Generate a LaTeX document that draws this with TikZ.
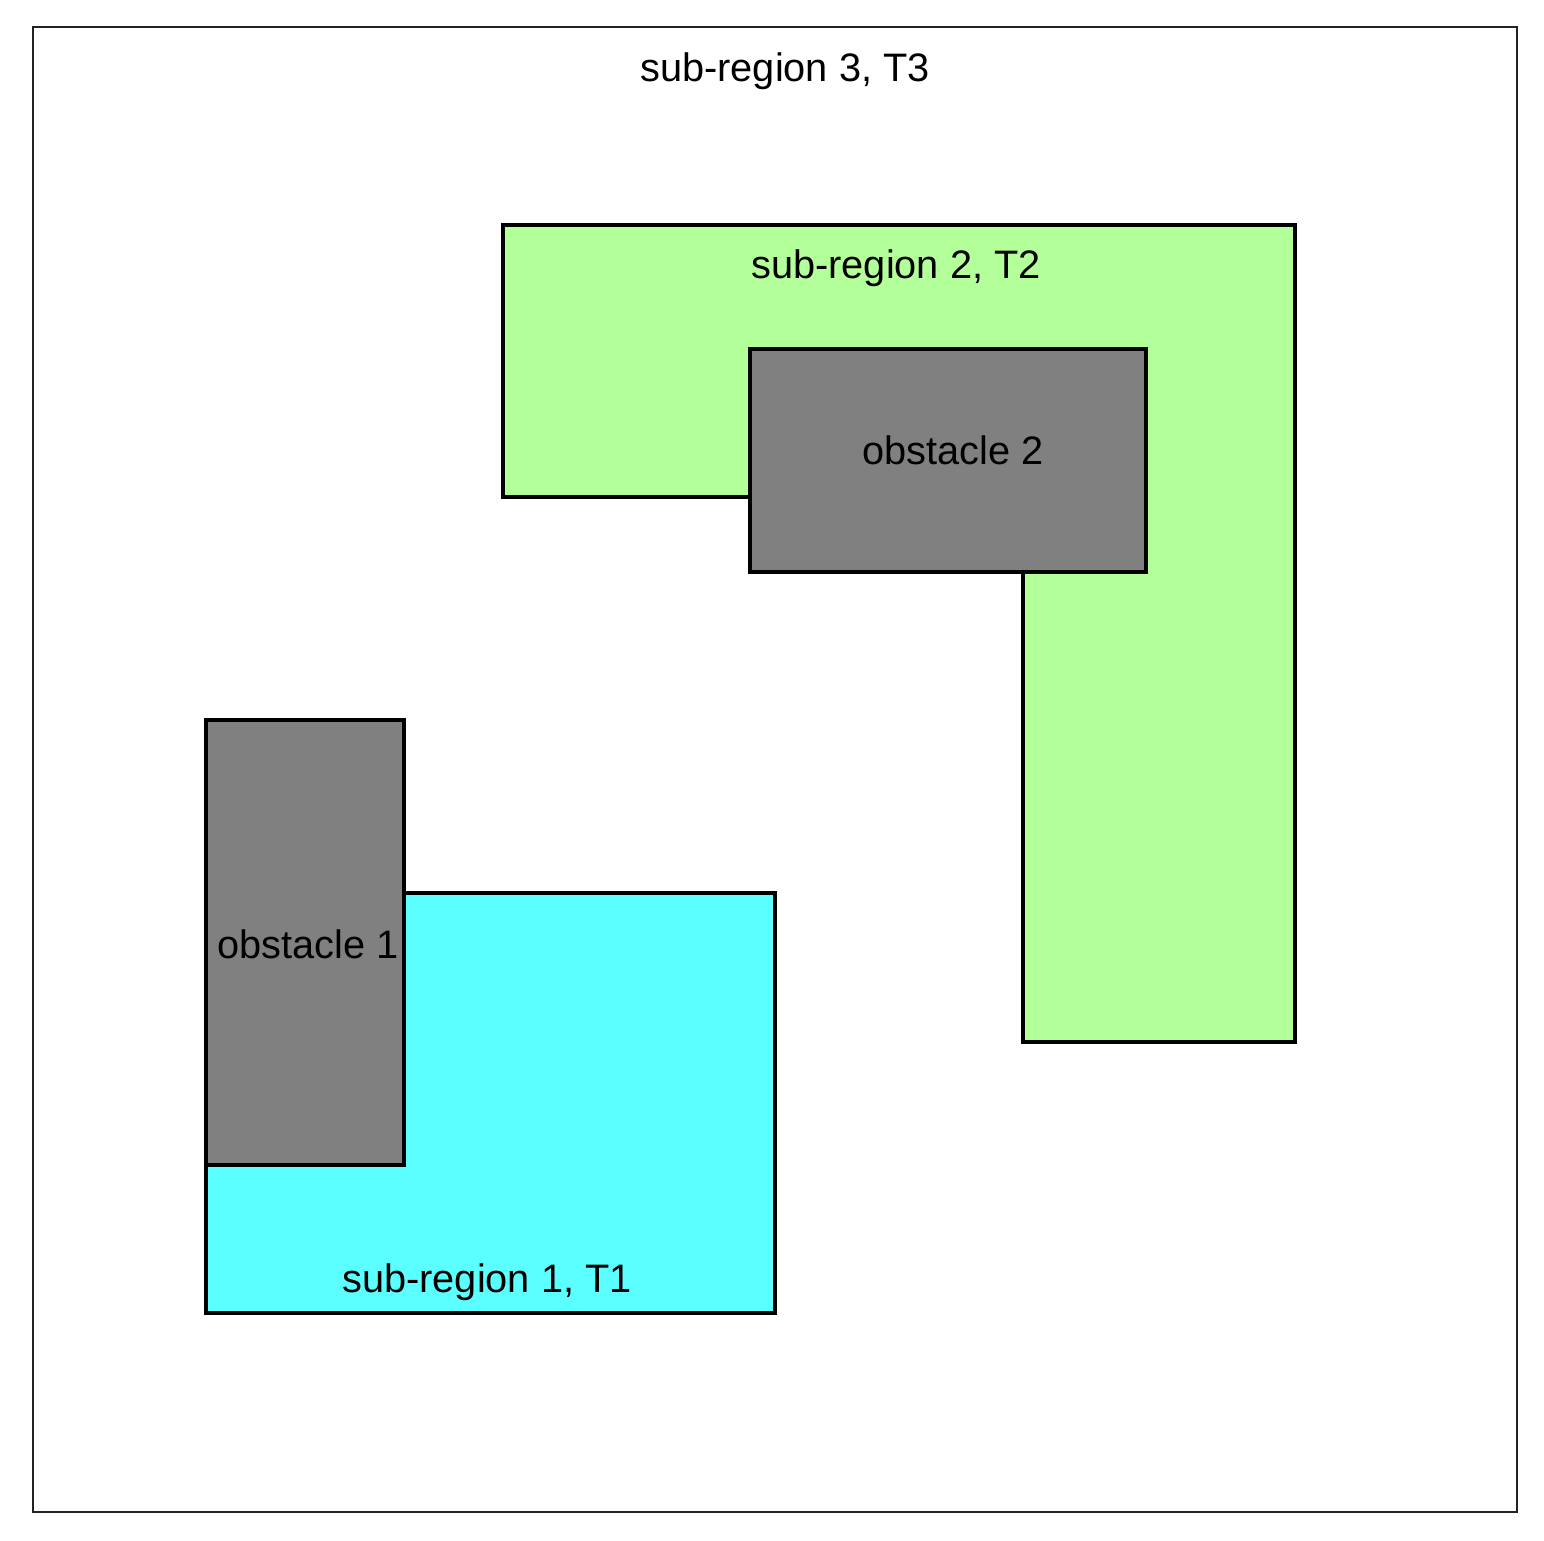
\documentclass[tikz,border=0pt]{standalone}
\usepackage{fontspec}
\setmainfont{Liberation Sans}
\usepackage{tikz}
\usetikzlibrary{positioning}
\usepackage{xcolor}
\definecolor{regiongreen}{RGB}{179,255,153}
\definecolor{regioncyan}{RGB}{91,255,255}
\definecolor{obstgray}{RGB}{128,128,128}
\definecolor{framegray}{RGB}{34,34,34}
\tikzstyle{region} = [draw=black, line width=0.9pt, line join=miter]
\tikzstyle{label} = [font=\fontsize{11.3}{13}\selectfont, anchor=base, inner sep=0pt]

\begin{document}
\begin{tikzpicture}[x=0.01cm, y=-0.01cm]
    \useasboundingbox (0,0) rectangle (1544,1541);

    % Outer region
    \draw[framegray, line width=0.8pt] (33,27) rectangle (1517,1512);

    % Sub-region 2 (L shape)
    \filldraw[region, fill=regiongreen] (503,225) -- (1295,225) -- (1295,1042) -- (1023,1042)
        -- (1023,572) -- (750,572) -- (750,497) -- (503,497) -- cycle;

    % Sub-region 1
    \filldraw[region, fill=regioncyan] (404,893) -- (775,893) -- (775,1313) -- (206,1313)
        -- (206,1165) -- (404,1165) -- cycle;

    % Obstacles
    \filldraw[region, fill=obstgray] (750,349) rectangle (1146,572);
    \filldraw[region, fill=obstgray] (206,720) rectangle (404,1165);

    % Labels
    \node[label] (t3) at (785,81) {sub-region 3, T3};
    \node[label] (t2) at (896,278) {sub-region 2, T2};
    \node[label] (ob2) at (953,464) {obstacle 2};
    \node[label] (ob1) at (308,958) {obstacle 1};
    \node[label] (t1) at (487,1292) {sub-region 1, T1};
\end{tikzpicture}
\end{document}
